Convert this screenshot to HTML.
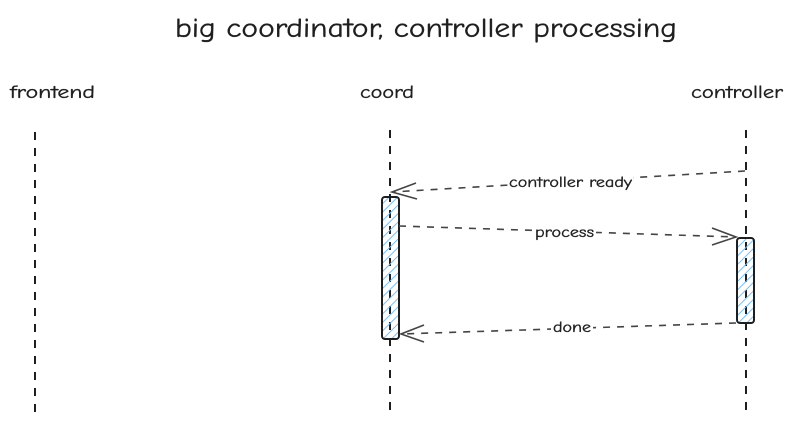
<!DOCTYPE html>
<html><head><meta charset="utf-8"><style>
html,body{margin:0;padding:0;background:#fff;width:792px;height:421px;overflow:hidden}
svg text{font-family:"Comic Neue","Liberation Sans",sans-serif;fill:#1e1e1e;stroke:#1e1e1e;stroke-width:0.35}
</style></head><body>
<svg width="792" height="421" viewBox="0 0 792 421" xmlns="http://www.w3.org/2000/svg">
<defs>
<pattern id="h" width="6" height="6" patternUnits="userSpaceOnUse" patternTransform="rotate(45)">
<line x1="0" y1="0" x2="0" y2="6" stroke="#74c0fc" stroke-width="2"/></pattern>
</defs>
<text x="175" y="37" font-size="27" textLength="502" lengthAdjust="spacingAndGlyphs">big coordinator, controller processing</text>
<text x="10" y="98" font-size="18" textLength="85" lengthAdjust="spacingAndGlyphs">frontend</text>
<text x="360" y="98" font-size="18" textLength="54" lengthAdjust="spacingAndGlyphs">coord</text>
<text x="691" y="98" font-size="18" textLength="92" lengthAdjust="spacingAndGlyphs">controller</text>
<g stroke="#1e1e1e" stroke-width="2" stroke-dasharray="8 8" fill="none">
<line x1="35" y1="132" x2="35" y2="412"/>
<line x1="390" y1="130" x2="390" y2="412"/>
<line x1="746" y1="130" x2="746" y2="412"/>
</g>
<rect x="382" y="197" width="17" height="142" rx="3" fill="url(#h)" stroke="#1e1e1e" stroke-width="2"/>
<rect x="737" y="238" width="17" height="85" rx="3" fill="url(#h)" stroke="#1e1e1e" stroke-width="2"/>
<g stroke="#444" stroke-width="1.6" fill="none">
<path d="M745 171 L392 192" stroke-dasharray="7 7"/>
<path d="M416 183 L392 192 L417 199"/>
<path d="M399 226 L736 237" stroke-dasharray="7 7"/>
<path d="M712 228 L736 237 L712 245"/>
<path d="M736 323 L401 334" stroke-dasharray="7 7"/>
<path d="M424 325 L401 334 L424 342"/>
</g>
<rect x="508" y="174" width="125" height="16" fill="#fff"/>
<text x="509" y="187" font-size="15" textLength="123" lengthAdjust="spacingAndGlyphs">controller ready</text>
<rect x="533" y="225" width="63" height="16" fill="#fff"/>
<text x="535" y="237" font-size="15" textLength="59" lengthAdjust="spacingAndGlyphs">process</text>
<rect x="551" y="320" width="42" height="16" fill="#fff"/>
<text x="553" y="332" font-size="15" textLength="38" lengthAdjust="spacingAndGlyphs">done</text>
</svg>
</body></html>
